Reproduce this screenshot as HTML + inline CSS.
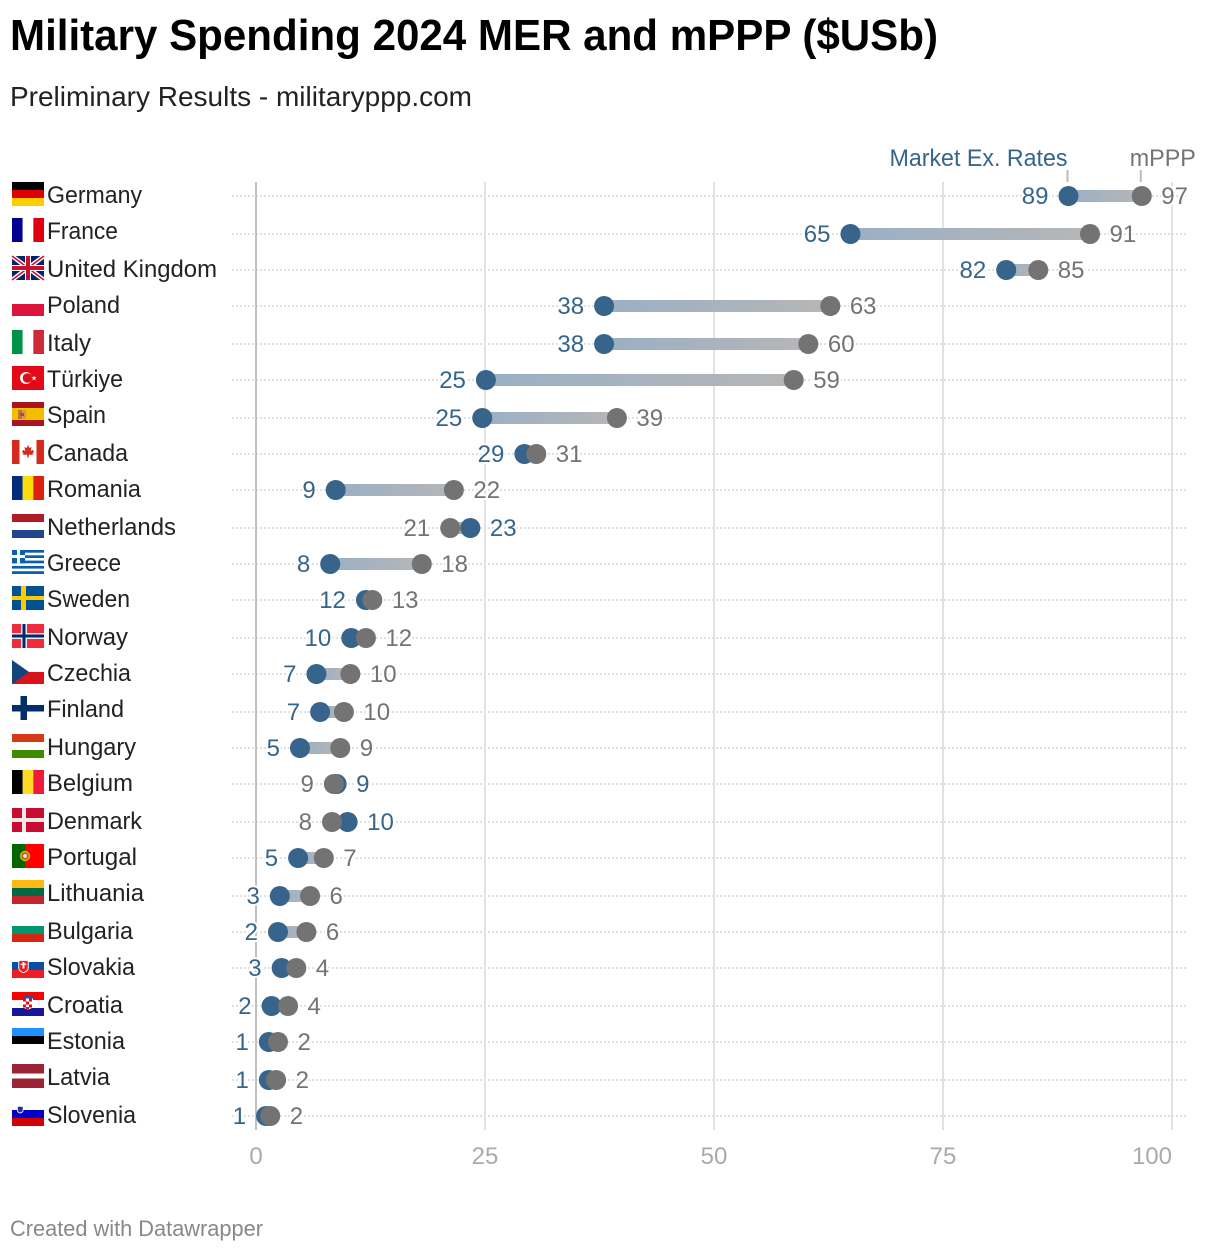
<!DOCTYPE html>
<html lang="en">
<head>
<meta charset="utf-8">
<title>Military Spending 2024 MER and mPPP</title>
<style>
html,body{margin:0;padding:0;background:#fff;}
body{width:1220px;height:1254px;overflow:hidden;font-family:"Liberation Sans",Arial,sans-serif;}
svg{display:block;}
text{font-family:"Liberation Sans",Arial,sans-serif;}
</style>
</head>
<body>
<svg id="chart" xmlns="http://www.w3.org/2000/svg" width="1220" height="1254" viewBox="0 0 1220 1254">
  <text x="10" y="50" font-size="44" font-weight="700" fill="#000" textLength="928" lengthAdjust="spacingAndGlyphs">Military Spending 2024 MER and mPPP ($USb)</text>
  <text x="10" y="106" font-size="28" fill="#222" textLength="462" lengthAdjust="spacingAndGlyphs">Preliminary Results - militaryppp.com</text>
  <text x="10" y="1236" font-size="22" fill="#888" textLength="253" lengthAdjust="spacingAndGlyphs">Created with Datawrapper</text>
  <defs id="defs"></defs>
  <g id="rows"></g>
  <g id="grid"></g>
  <g id="ticks"></g>
  <g id="flags"></g>
  <g id="names"></g>
  <g id="bars"></g>
  <g id="dotsMer"></g>
  <g id="dotsPpp"></g>
  <g id="values"></g>
  <g id="legend"></g>
</svg>
<script>
var countries = ["Germany","France","United Kingdom","Poland","Italy","Türkiye","Spain","Canada","Romania","Netherlands","Greece","Sweden","Norway","Czechia","Finland","Hungary","Belgium","Denmark","Portugal","Lithuania","Bulgaria","Slovakia","Croatia","Estonia","Latvia","Slovenia"];
var merValues = [88.7,64.9,81.9,38,38,25.1,24.7,29.3,8.7,23.4,8.1,12,10.4,6.6,7,4.8,8.8,10,4.6,2.6,2.4,2.8,1.7,1.4,1.4,1.1];
var pppValues = [96.7,91.05,85.4,62.7,60.3,58.7,39.4,30.6,21.6,21.2,18.1,12.7,12,10.3,9.6,9.2,8.5,8.3,7.4,5.9,5.5,4.4,3.5,2.4,2.2,1.55];
var axisTicks = [0,25,50,75,100];
var legendNames = ["Market Ex. Rates","mPPP"];

var BLUE = "#36648b", GREY = "#737373";
var NS = "http://www.w3.org/2000/svg";

function xScale(v){ return 256 + v * 9.16; }
function rowY(i){ return 2 * Math.round(98.18 + 18.39 * i); }
function flagTop(i){ return 2 * Math.round(91 + 18.39 * i); }

function make(tag, attrs, parent){
  var el = document.createElementNS(NS, tag);
  for (var k in attrs) el.setAttribute(k, attrs[k]);
  parent.appendChild(el);
  return el;
}
function rect(x,y,w,h,c){ return '<rect x="'+x+'" y="'+y+'" width="'+w+'" height="'+h+'" fill="'+c+'"/>'; }
function hStripes(cs){ var h=24/cs.length, s=''; cs.forEach(function(c,i){ s+=rect(0,i*h,32,h,c); }); return s; }
function vStripes(cs){ var w=32/cs.length, s=''; cs.forEach(function(c,i){ s+=rect(i*w,0,w,24,c); }); return s; }

var flagArt = {
  "Germany": hStripes(["#000","#dd0000","#ffce00"]),
  "France": vStripes(["#000091","#fff","#e1000f"]),
  "United Kingdom": rect(0,0,32,24,"#012169")+'<path d="M0 0L32 24M32 0L0 24" stroke="#fff" stroke-width="4.5"/><path d="M0 0L32 24M32 0L0 24" stroke="#c8102e" stroke-width="1.6"/>'+rect(13,0,6,24,"#fff")+rect(0,9,32,6,"#fff")+rect(14,0,4,24,"#c8102e")+rect(0,10,32,4,"#c8102e"),
  "Poland": hStripes(["#fff","#dc143c"]),
  "Italy": vStripes(["#009246","#fff","#ce2b37"]),
  "Türkiye": rect(0,0,32,24,"#e30a17")+'<circle cx="14" cy="12" r="6" fill="#fff"/><circle cx="15.5" cy="12" r="4.8" fill="#e30a17"/><g transform="translate(2.5,0)"><polygon points="19.5,9.5 20.2,11.3 22.2,11.3 20.6,12.5 21.2,14.4 19.5,13.3 17.9,14.4 18.5,12.5 16.9,11.3 18.9,11.3" fill="#fff"/></g>',
  "Spain": rect(0,0,32,24,"#aa151b")+rect(0,6,32,12,"#f1bf00")+rect(6,8,4,9,"#c4703a")+rect(10,8,4,9,"#d09a4a")+rect(8,11,4,3,"#b8453a"),
  "Canada": rect(0,0,32,24,"#fff")+rect(0,0,7.5,24,"#d52b1e")+rect(24.5,0,7.5,24,"#d52b1e")+'<polygon points="16,5 17.5,8 19.5,7 18.8,11 21,10 22,12 20.5,13.5 21,15 17,14.6 16.4,18 15.6,18 15,14.6 11,15 11.5,13.5 10,12 11,10 13.2,11 12.5,7 14.5,8" fill="#d52b1e"/>',
  "Romania": vStripes(["#002b7f","#fcdd09","#e0200f"]),
  "Netherlands": hStripes(["#ae1c28","#fff","#21468b"]),
  "Greece": rect(0,0,32,24,"#0d5eaf")+rect(0,2.7,32,2.6,"#fff")+rect(0,8,32,2.6,"#fff")+rect(0,13.3,32,2.6,"#fff")+rect(0,18.6,32,2.6,"#fff")+rect(0,0,13,13.3,"#0d5eaf")+rect(5,0,3,13.3,"#fff")+rect(0,5,13,3,"#fff"),
  "Sweden": rect(0,0,32,24,"#005293")+rect(9,0,5,24,"#fecb00")+rect(0,10,32,4,"#fecb00"),
  "Norway": rect(0,0,32,24,"#ef2b3d")+rect(9,0,6,24,"#e8eef5")+rect(0,9,32,6,"#e8eef5")+rect(10.5,0,3,24,"#002868")+rect(0,10.5,32,3,"#002868"),
  "Czechia": rect(0,0,32,12,"#fff")+rect(0,12,32,12,"#d7141a")+'<polygon points="0,0 17,12 0,24" fill="#11457e"/>',
  "Finland": rect(0,0,32,24,"#fff")+rect(8.5,0,6.5,24,"#002f6c")+rect(0,9,32,6.5,"#002f6c"),
  "Hungary": hStripes(["#d43a14","#fff","#3f8a00"]),
  "Belgium": vStripes(["#000","#fdda24","#ef1a3a"]),
  "Denmark": rect(0,0,32,24,"#c60c30")+rect(10,0,4,24,"#f3e6e8")+rect(0,10,32,4,"#f3e6e8"),
  "Portugal": rect(0,0,32,24,"#ff0000")+rect(0,0,13,24,"#006600")+'<circle cx="13" cy="12" r="5.2" fill="#c9b400"/><circle cx="13" cy="12" r="3.4" fill="#d23a2a"/><circle cx="13" cy="12" r="2" fill="#eee"/>',
  "Lithuania": hStripes(["#fdb913","#006a44","#c1272d"]),
  "Bulgaria": hStripes(["#fff","#00966e","#d62612"]),
  "Slovakia": hStripes(["#fff","#0b4ea2","#ee1c25"])+'<g transform="translate(0,4.5) translate(11.5,0) scale(0.95,0.8) translate(-11.5,0)"><path d="M6 2H17V12Q17 16 11.5 18.5Q6 16 6 12Z" fill="#fff"/><path d="M7 3H16V12Q16 15 11.5 17.2Q7 15 7 12Z" fill="#ee1c25"/><rect x="10.5" y="4.5" width="2" height="8" fill="#fff"/><rect x="8.5" y="6.5" width="6" height="1.5" fill="#fff"/></g>',
  "Croatia": hStripes(["#f00","#fff","#171796"])+'<g transform="translate(0,-1.5)">'+rect(11,5,10,4,"#2b4fa0")+'<path d="M11 8H21V15Q21 18 16 19Q11 18 11 15Z" fill="#fff"/>'+rect(11,8,3,3,"#e01010")+rect(17,8,3,3,"#e01010")+rect(14,11,3,3,"#e01010")+rect(11,14,3,3,"#e01010")+rect(17,14,3,3,"#e01010")+rect(14,16.5,3,2,"#e01010")+'</g>',
  "Estonia": hStripes(["#1e90ff","#000","#fff"]),
  "Latvia": rect(0,0,32,24,"#9b2335")+rect(0,9.5,32,5,"#fff"),
  "Slovenia": hStripes(["#fff","#0000c8","#d40000"])+'<g transform="translate(0,3)"><path d="M5 1H11.5V5.5Q11.5 7.5 8.2 8.5Q5 7.5 5 5.5Z" fill="#fff"/><path d="M5.8 1.8H10.7V5.3Q10.7 6.8 8.2 7.6Q5.8 6.8 5.8 5.3Z" fill="#1a2fa8"/></g>'
};

var defs = document.getElementById('defs');
var gRows = document.getElementById('rows');
var gGrid = document.getElementById('grid');
var gTicks = document.getElementById('ticks');
var gFlags = document.getElementById('flags');
var gNames = document.getElementById('names');
var gBars = document.getElementById('bars');
var gMer = document.getElementById('dotsMer');
var gPpp = document.getElementById('dotsPpp');
var gValues = document.getElementById('values');
var gLegend = document.getElementById('legend');

axisTicks.forEach(function(t, i){
  var line = make('line', {x1:xScale(t), x2:xScale(t), y1:182, y2:1130, stroke:t===0?'#c0c0c0':'#e2e2e2','stroke-width':2}, gGrid);
  
  
  var last = i === axisTicks.length - 1;
  var label = make('text', {x:xScale(t), y:1164, 'font-size':24, fill:'#aaa', 'text-anchor':last ? 'end' : 'middle'}, gTicks);
  label.textContent = t;
  
  
});

countries.forEach(function(name, i){
  var slug = name.toLowerCase().replace(/ü/g,'u').replace(/\s+/g,'-');
  var y = rowY(i), top = flagTop(i);
  var mer = merValues[i], ppp = pppValues[i];
  var xm = xScale(mer), xp = xScale(ppp);

  var guide = make('line', {x1:232, x2:1187, y1:y, y2:y, stroke:'#e0e0e0', 'stroke-width':2, 'stroke-dasharray':'2 2'}, gRows);
  
  

  var flag = make('g', {transform:'translate(12,' + top + ')'}, gFlags);
  flag.innerHTML = flagArt[name];
  
  

  var label = make('text', {x:47, y:top + 21, 'font-size':24, fill:'#222'}, gNames);
  label.textContent = name;
  
  
  label.setAttribute('textLength', labelWidth(name));
  label.setAttribute('lengthAdjust', 'spacingAndGlyphs');

  var grad = make('linearGradient', {id:'g' + i, gradientUnits:'userSpaceOnUse', x1:xm, x2:xp, y1:0, y2:0}, defs);
  make('stop', {offset:'0', 'stop-color':'#9ab0c4'}, grad);
  make('stop', {offset:'1', 'stop-color':'#b6b6b6'}, grad);

  var bar = make('rect', {x:Math.min(xm, xp), y:y - 6, width:Math.abs(xp - xm), height:12, fill:'url(#g' + i + ')'}, gBars);
  
  

  var dm = make('circle', {cx:xm, cy:y, r:10, fill:BLUE}, gMer);
  
  

  var dp = make('circle', {cx:xp, cy:y, r:10, fill:GREY}, gPpp);
  
  

  var merLeft = mer <= ppp;
  var lm = make('text', {x:merLeft ? xm - 20 : xm + 19.5, y:y + 8, 'font-size':24, fill:BLUE, 'text-anchor':merLeft ? 'end' : 'start', stroke:'#fff', 'stroke-width':4, 'paint-order':'stroke'}, gValues);
  lm.textContent = Math.round(mer);
  
  

  var lp = make('text', {x:merLeft ? xp + 19.5 : xp - 20, y:y + 8, 'font-size':24, fill:GREY, 'text-anchor':merLeft ? 'start' : 'end', stroke:'#fff', 'stroke-width':4, 'paint-order':'stroke'}, gValues);
  lp.textContent = Math.round(ppp);
  
  
});

function labelWidth(name){
  var widths = {"Germany":95,"France":71,"United Kingdom":170,"Poland":73,"Italy":44,"Türkiye":76,"Spain":59,"Canada":81,"Romania":94,"Netherlands":129,"Greece":74,"Sweden":83,"Norway":81,"Czechia":84,"Finland":77,"Hungary":89,"Belgium":86,"Denmark":95,"Portugal":90,"Lithuania":97,"Bulgaria":86,"Slovakia":88,"Croatia":76,"Estonia":78,"Latvia":63,"Slovenia":89};
  return widths[name];
}

var legX0 = xScale(merValues[0]) - 1, legX1 = xScale(pppValues[0]) - 1;
var t0 = make('line', {x1:legX0, x2:legX0, y1:170, y2:182, stroke:'#bbb', 'stroke-width':2}, gLegend);


var t1 = make('line', {x1:legX1, x2:legX1, y1:170, y2:182, stroke:'#bbb', 'stroke-width':2}, gLegend);


var l0 = make('text', {x:legX0 - 178, y:166, 'font-size':24, fill:BLUE, textLength:178, lengthAdjust:'spacingAndGlyphs'}, gLegend);
l0.textContent = legendNames[0];


var l1 = make('text', {x:legX1 - 11, y:166, 'font-size':24, fill:GREY, textLength:66, lengthAdjust:'spacingAndGlyphs'}, gLegend);
l1.textContent = legendNames[1];


</script>
</body>
</html>
